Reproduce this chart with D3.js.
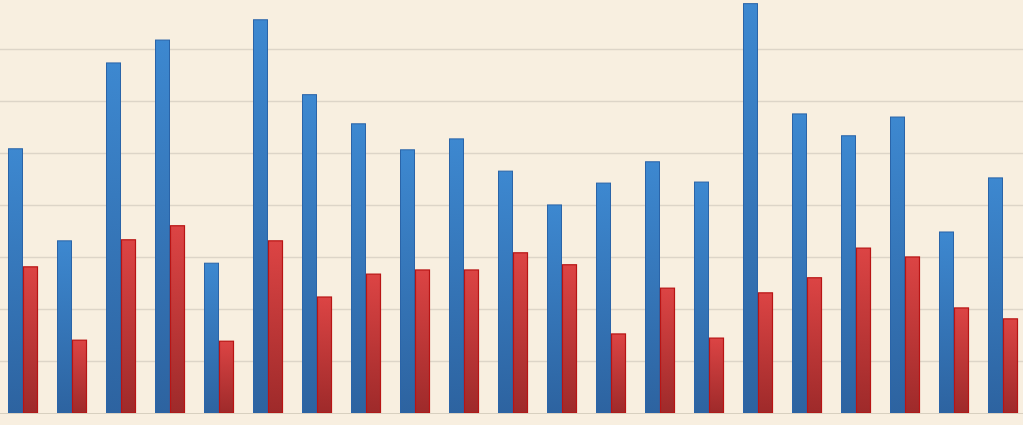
<!DOCTYPE html><html><head><script src="https://cdn.jsdelivr.net/npm/d3@7"></script>
<style>body{margin:0;background:#f8efe0}</style></head><body><svg width="1023" height="425"></svg><script>
const categories=d3.range(1,22).map(String);
const blueValues=[50.8,33.1,67.3,71.7,28.8,75.6,61.2,55.6,50.6,52.7,46.5,40,44.2,48.3,44.4,78.7,57.5,53.3,56.9,34.8,45.2];
const redValues=[28.1,14,33.3,36,13.8,33.1,22.3,26.7,27.5,27.5,30.8,28.5,15.2,24,14.4,23.1,26,31.7,30,20.2,18.1];
const gridTicks=[10,20,30,40,50,60,70];
const svg=d3.select("svg");
svg.append("rect").attr("width",1023).attr("height",425).attr("fill","#f8efe0");
const y=d3.scaleLinear().domain([0,79.4]).range([413,0]);
const x=d3.scaleBand().domain(categories).range([8,8+21*49]);
const x1=d3.scaleBand().domain(["b","r"]).range([0,30]);
const defs=svg.append("defs");
function grad(id,c1,c2){const g=defs.append("linearGradient").attr("id",id).attr("x1",0).attr("y1",0).attr("x2",0).attr("y2",1);
g.append("stop").attr("offset","0%").attr("stop-color",c1);g.append("stop").attr("offset","100%").attr("stop-color",c2);}
grad("gb","#3d88d0","#2d63a0");grad("gr","#dc4444","#9e2a2a");
svg.append("g").selectAll("line").data(gridTicks).join("line").attr("x1",0).attr("x2",1023)
 .attr("y1",d=>y(d)+0.5).attr("y2",d=>y(d)+0.5).attr("stroke","#ddd5c8").attr("stroke-width",1.5);
const g=svg.append("g");
categories.forEach((c,i)=>{
 g.append("rect").attr("x",x(c)+x1("b")+0.5).attr("y",y(blueValues[i])).attr("width",x1.bandwidth()-1).attr("height",413-y(blueValues[i]))
  .attr("fill","url(#gb)").attr("stroke","#2a64a8").attr("stroke-width",1);
 g.append("rect").attr("x",x(c)+x1("r")+0.5).attr("y",y(redValues[i])).attr("width",x1.bandwidth()-1).attr("height",413-y(redValues[i]))
  .attr("fill","url(#gr)").attr("stroke","#b81414").attr("stroke-width",1.2);
});
svg.append("line").attr("x1",0).attr("x2",1023).attr("y1",413.5).attr("y2",413.5).attr("stroke","#d8d0c0");
</script></body></html>
